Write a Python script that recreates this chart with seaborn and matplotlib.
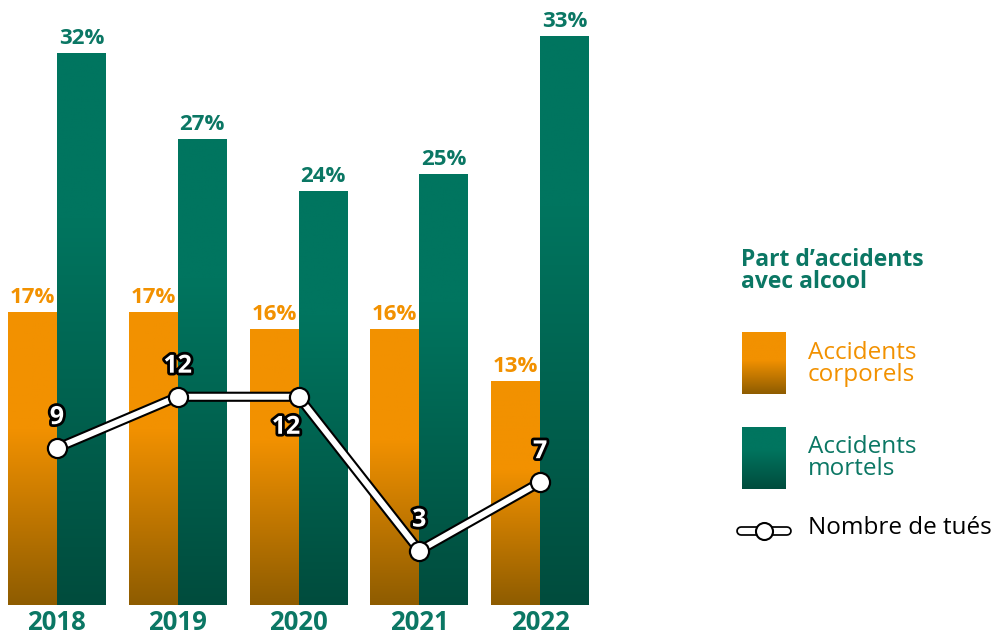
import numpy as np
import pandas as pd
import matplotlib
matplotlib.use("Agg")
import matplotlib.pyplot as plt
import matplotlib.patheffects as pe
from matplotlib.colors import LinearSegmentedColormap
import seaborn as sns

# Data
years = ["2018", "2019", "2020", "2021", "2022"]
corporels = [17, 17, 16, 16, 13]
mortels = [32, 27, 24, 25, 33]
tues = [9, 12, 12, 3, 7]

ORANGE = "#F29100"
ORANGE_DARK = "#8E5C00"
GREEN = "#00755F"
GREEN_DARK = "#004C3D"
TXT_GREEN = "#0B7764"

sns.set_theme(style="white")
plt.rcParams["font.family"] = ["Open Sans", "DejaVu Sans"]

df = pd.DataFrame({
    "Année": years * 2,
    "Part": corporels + mortels,
    "Type": ["Accidents corporels"] * 5 + ["Accidents mortels"] * 5,
})

fig = plt.figure(figsize=(9.99, 6.38), dpi=100)
W, H = 999, 638
ax = fig.add_axes([8 / W, (H - 605) / H, (589 - 8) / W, (605 - 36) / H])

sns.barplot(data=df, x="Année", y="Part", hue="Type",
            palette=[ORANGE, GREEN], width=0.81, gap=0,
            legend=False, ax=ax, saturation=1)


def grad_cmap(top, bottom, hold):
    return LinearSegmentedColormap.from_list(
        "g", [(0, top), (hold, top), (1, bottom)])


cm_or = grad_cmap(ORANGE, ORANGE_DARK, 0.4)
cm_gr = grad_cmap(GREEN, GREEN_DARK, 0.3)
grad = np.linspace(0, 1, 256).reshape(-1, 1)

for i, bar in enumerate(ax.patches):
    x0, w, h = bar.get_x(), bar.get_width(), bar.get_height()
    if h <= 0:
        continue
    cmap = cm_or if i < len(years) else cm_gr
    col = ORANGE if i < len(years) else TXT_GREEN
    bar.set_facecolor("none")
    bar.set_edgecolor("none")
    im = ax.imshow(grad, cmap=cmap, aspect="auto", extent=[x0, x0 + w, 0, h],
                   origin="upper", zorder=1)
    im.set_clip_path(bar)
    ax.annotate(f"{h:.0f}%", (x0 + w / 2, h), xytext=(0, 3),
                textcoords="offset points", ha="center", va="bottom",
                fontsize=16, fontweight="bold", color=col)

ax.set_xlim(-0.405, 4.405)
ax.set_ylim(0, 33)
ax.set_xlabel("")
ax.set_ylabel("")
ax.set_yticks([])
ax.tick_params(axis="x", length=0, pad=3)
for lab in ax.get_xticklabels():
    lab.set_fontsize(18.5)
    lab.set_fontweight("bold")
    lab.set_color(TXT_GREEN)
sns.despine(ax=ax, left=True, bottom=True)

# Line: number of deaths
ax2 = ax.twinx()
xs = np.arange(len(years))
sns.lineplot(x=xs, y=tues, ax=ax2, color="white", linewidth=4.3,
             solid_joinstyle="round", zorder=5)
ax2.lines[0].set_path_effects([pe.Stroke(linewidth=7.3, foreground="black"),
                               pe.Normal()])
sns.scatterplot(x=xs, y=tues, ax=ax2, s=190, color="white",
                edgecolor="black", linewidth=1.6, zorder=6)
ax2.set_ylim(-0.18, 33.1)
ax2.set_xlim(-0.405, 4.405)
ax2.set_axis_off()

stroke = [pe.withStroke(linewidth=4, foreground="black")]
for i, (x, v) in enumerate(zip(xs, tues)):
    below = (i == 2)
    ax2.annotate(str(v), (x, v), xytext=(-9 if below else 0, -22 if below else 22),
                 textcoords="offset points", ha="center", va="center",
                 fontsize=18, fontweight="bold", color="white",
                 path_effects=stroke, zorder=7)

# Legend panel
lg = fig.add_axes([0, 0, 1, 1], zorder=-1)
lg.set_xlim(0, W)
lg.set_ylim(H, 0)
lg.set_axis_off()

lg.text(741, 271, "Part d’accidents\navec alcool", fontsize=16.5,
        fontweight="bold", color=TXT_GREEN, va="center", ha="left",
        linespacing=0.85)

gl = np.linspace(0, 1, 256).reshape(-1, 1)
lg.imshow(gl, cmap=grad_cmap(ORANGE, ORANGE_DARK, 0.45), aspect="auto",
          extent=[742, 786, 394, 332])
lg.imshow(gl, cmap=grad_cmap(GREEN, GREEN_DARK, 0.35), aspect="auto",
          extent=[742, 786, 489, 427])
lg.set_xlim(0, W)
lg.set_ylim(H, 0)

lg.text(808, 364, "Accidents\ncorporels", fontsize=17.5, color=ORANGE,
        va="center", ha="left", linespacing=0.85)
lg.text(808, 458, "Accidents\nmortels", fontsize=17.5, color=TXT_GREEN,
        va="center", ha="left", linespacing=0.85)
lg.text(808, 528, "Nombre de tués", fontsize=17.5, color="black",
        va="center", ha="left")

icon, = lg.plot([741, 787], [531, 531], color="white", linewidth=4.5,
                solid_capstyle="round")
icon.set_path_effects([pe.Stroke(linewidth=7, foreground="black",
                                 capstyle="round"), pe.Normal()])
lg.scatter([764], [531], s=150, color="white", edgecolor="black",
           linewidth=1.5, zorder=3)

fig.savefig("out.png", dpi=100, facecolor="white")
